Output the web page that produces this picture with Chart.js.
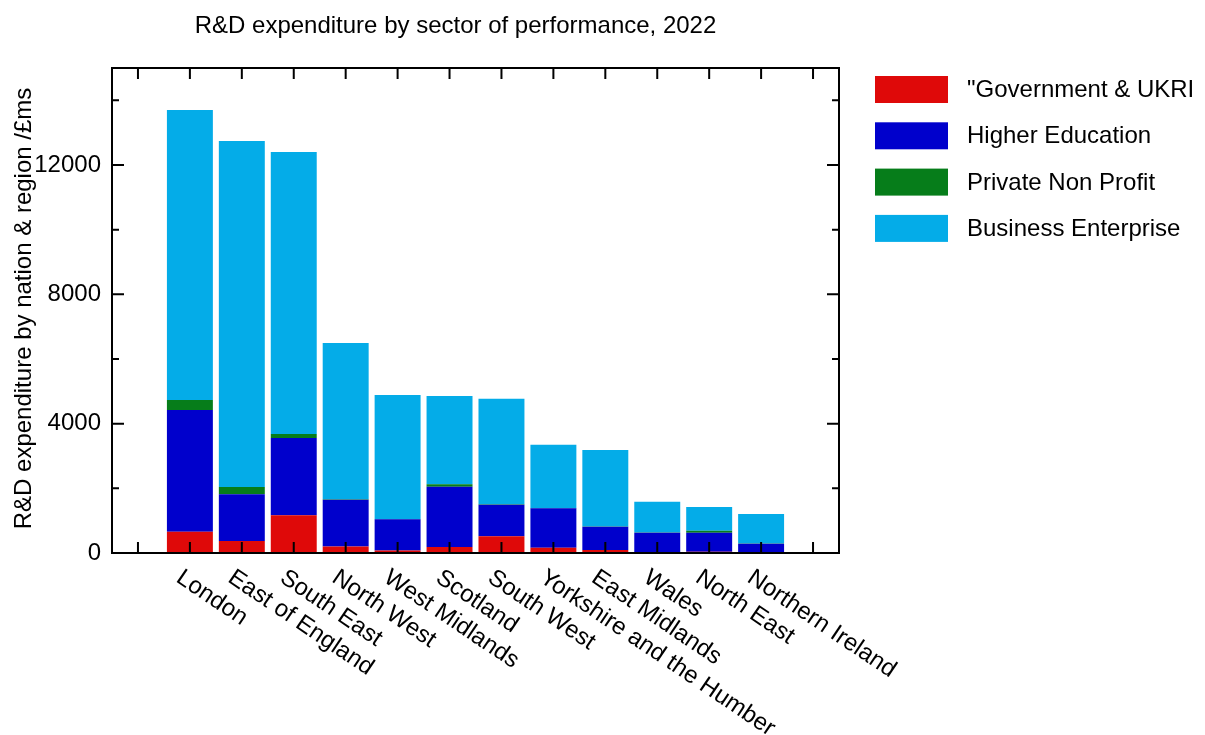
<!DOCTYPE html>
<html>
<head>
<meta charset="utf-8">
<title>R&amp;D expenditure by sector of performance, 2022</title>
<script src="https://cdn.jsdelivr.net/npm/chart.js@4.4.0/dist/chart.umd.min.js"></script>
<style>
  body { margin: 0; background: #fff; }
  #wrap { width: 1205px; height: 735px; }
</style>
</head>
<body>
<div id="wrap"><canvas id="rdChart"></canvas></div>
<script>
// nations & regions, empty slot at each end of the axis
const regions = ["", "London", "East of England", "South East", "North West", "West Midlands",
  "Scotland", "South West", "Yorkshire and the Humber", "East Midlands", "Wales",
  "North East", "Northern Ireland", ""];

// £m by sector of performance
const government   = [null, 660, 371, 1166, 200, 75, 186, 516, 165, 90, 20, 40, 10, null];
const higherEd     = [null, 3763, 1444, 2391, 1450, 967, 1865, 978, 1217, 724, 609, 589, 279, null];
const privateNP    = [null, 309, 226, 124, 15, 10, 74, 10, 10, 5, 5, 62, 5, null];
const business     = [null, 8970, 10702, 8722, 4830, 3835, 2731, 3269, 1958, 2367, 948, 732, 912, null];

const yTickValues = [0, 2000, 4000, 6000, 8000, 10000, 12000, 14000];
const yTickLabels = ["0", "", "4000", "", "8000", "", "12000", ""];

const FONT = '24px "Liberation Sans", Arial, sans-serif';
const LABEL_ANGLE = 34 * Math.PI / 180;

// gnuplot style frame: box, inward ticks, rotated labels, legend on the right
const framePlugin = {
  id: 'frame',
  afterDatasetsDraw(chart) {
    const ctx = chart.ctx;
    const a = chart.chartArea;
    const x = chart.scales.x;
    const y = chart.scales.y;
    ctx.save();

    ctx.strokeStyle = '#000';
    ctx.lineWidth = 2;
    ctx.strokeRect(a.left, a.top, a.right - a.left, a.bottom - a.top);

    ctx.beginPath();
    regions.forEach((r, i) => {
      const px = x.getPixelForValue(i);
      ctx.moveTo(px, a.bottom); ctx.lineTo(px, a.bottom - 11);
      ctx.moveTo(px, a.top); ctx.lineTo(px, a.top + 11);
    });
    yTickValues.forEach((v, i) => {
      const py = y.getPixelForValue(v);
      const len = yTickLabels[i] ? 12 : 7;
      ctx.moveTo(a.left, py); ctx.lineTo(a.left + len, py);
      ctx.moveTo(a.right, py); ctx.lineTo(a.right - len, py);
    });
    ctx.stroke();

    ctx.fillStyle = '#000';
    ctx.font = FONT;

    // y tick labels
    ctx.textAlign = 'right';
    ctx.textBaseline = 'middle';
    yTickValues.forEach((v, i) => {
      if (yTickLabels[i]) ctx.fillText(yTickLabels[i], a.left - 11, y.getPixelForValue(v));
    });

    // x tick labels, rotated clockwise
    ctx.textAlign = 'left';
    ctx.textBaseline = 'alphabetic';
    regions.forEach((label, i) => {
      if (!label) return;
      const px = x.getPixelForValue(i);
      ctx.save();
      ctx.translate(px - 15, a.bottom + 28);
      ctx.rotate(LABEL_ANGLE);
      ctx.fillText(label, 0, 0);
      ctx.restore();
    });

    // y axis title
    ctx.save();
    ctx.translate(24, (a.top + a.bottom) / 2 - 2);
    ctx.rotate(-Math.PI / 2);
    ctx.textAlign = 'center';
    ctx.textBaseline = 'middle';
    ctx.fillText('R&D expenditure by nation & region /£ms', 0, 0);
    ctx.restore();

    // chart title
    ctx.textAlign = 'center';
    ctx.fillText('R&D expenditure by sector of performance, 2022', 455.5, 33);

    // legend
    ctx.textAlign = 'left';
    ctx.textBaseline = 'middle';
    chart.data.datasets.forEach((ds, i) => {
      const top = 76 + i * 46.3;
      ctx.fillStyle = ds.backgroundColor;
      ctx.fillRect(875, top, 73, 27);
      ctx.fillStyle = '#000';
      ctx.fillText(ds.label, 967, top + 14.5);
    });

    ctx.restore();
  }
};

new Chart(document.getElementById('rdChart'), {
  type: 'bar',
  data: {
    labels: regions,
    datasets: [
      { label: '"Government & UKRI', data: government, backgroundColor: '#df0909' },
      { label: 'Higher Education', data: higherEd, backgroundColor: '#0000cc' },
      { label: 'Private Non Profit', data: privateNP, backgroundColor: '#067d1a' },
      { label: 'Business Enterprise', data: business, backgroundColor: '#04ace8' }
    ]
  },
  options: {
    responsive: true,
    maintainAspectRatio: false,
    animation: false,
    layout: { padding: { left: 112, top: 68, right: 366, bottom: 182 } },
    datasets: { bar: { categoryPercentage: 1, barPercentage: 0.885, borderWidth: 0 } },
    scales: {
      x: { type: 'category', stacked: true, offset: true, display: false },
      y: { stacked: true, min: 0, max: 15000, display: false }
    },
    plugins: {
      legend: { display: false },
      tooltip: { enabled: false },
      title: { display: false }
    }
  },
  plugins: [framePlugin]
});
</script>
</body>
</html>
